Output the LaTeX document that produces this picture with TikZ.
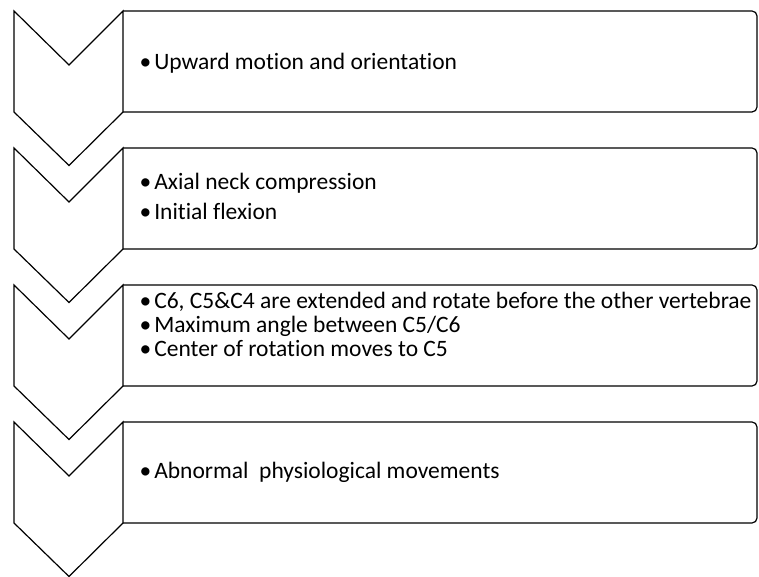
\documentclass[tikz,border=0pt]{standalone}
\usepackage{fontspec}
\setmainfont[RawFeature=-liga]{Carlito}
\begin{document}
\begin{tikzpicture}[x=1pt,y=1pt,line width=1.2pt,line join=miter,
  item/.style={anchor=base west,inner sep=0pt,font=\fontsize{23.5}{28}\selectfont}]
\useasboundingbox (0,0) rectangle (759,576);
\foreach \i in {0,1,2,3}{
  \pgfmathsetmacro{\Y}{565-137*\i}
  \draw (14,\Y) -- (69,\Y-54) -- (123,\Y) -- (123,\Y-101) -- (69,\Y-154.5) -- (14,\Y-101) -- cycle;
  \draw (123,\Y) -- (752,\Y) arc[start angle=90,end angle=0,radius=5] -- (757,\Y-96) arc[start angle=0,end angle=-90,radius=5] -- (123,\Y-101);
}
\node[item] (t1) at (139,506) {•\hspace{3pt}Upward motion and orientation};
\node[item] (t2a) at (139,386) {•\hspace{3pt}Axial neck compression};
\node[item] (t2b) at (139,356) {•\hspace{3pt}Initial flexion};
\node[item] (t3a) at (139,268) {•\hspace{3pt}C6, C5\&C4 are extended and rotate before the other vertebrae};
\node[item] (t3b) at (139,244) {•\hspace{3pt}Maximum angle between C5/C6};
\node[item] (t3c) at (139,220) {•\hspace{3pt}Center of rotation moves to C5};
\node[item] (t4) at (139,98) {•\hspace{3pt}Abnormal\ \ physiological movements};
\end{tikzpicture}
\end{document}
